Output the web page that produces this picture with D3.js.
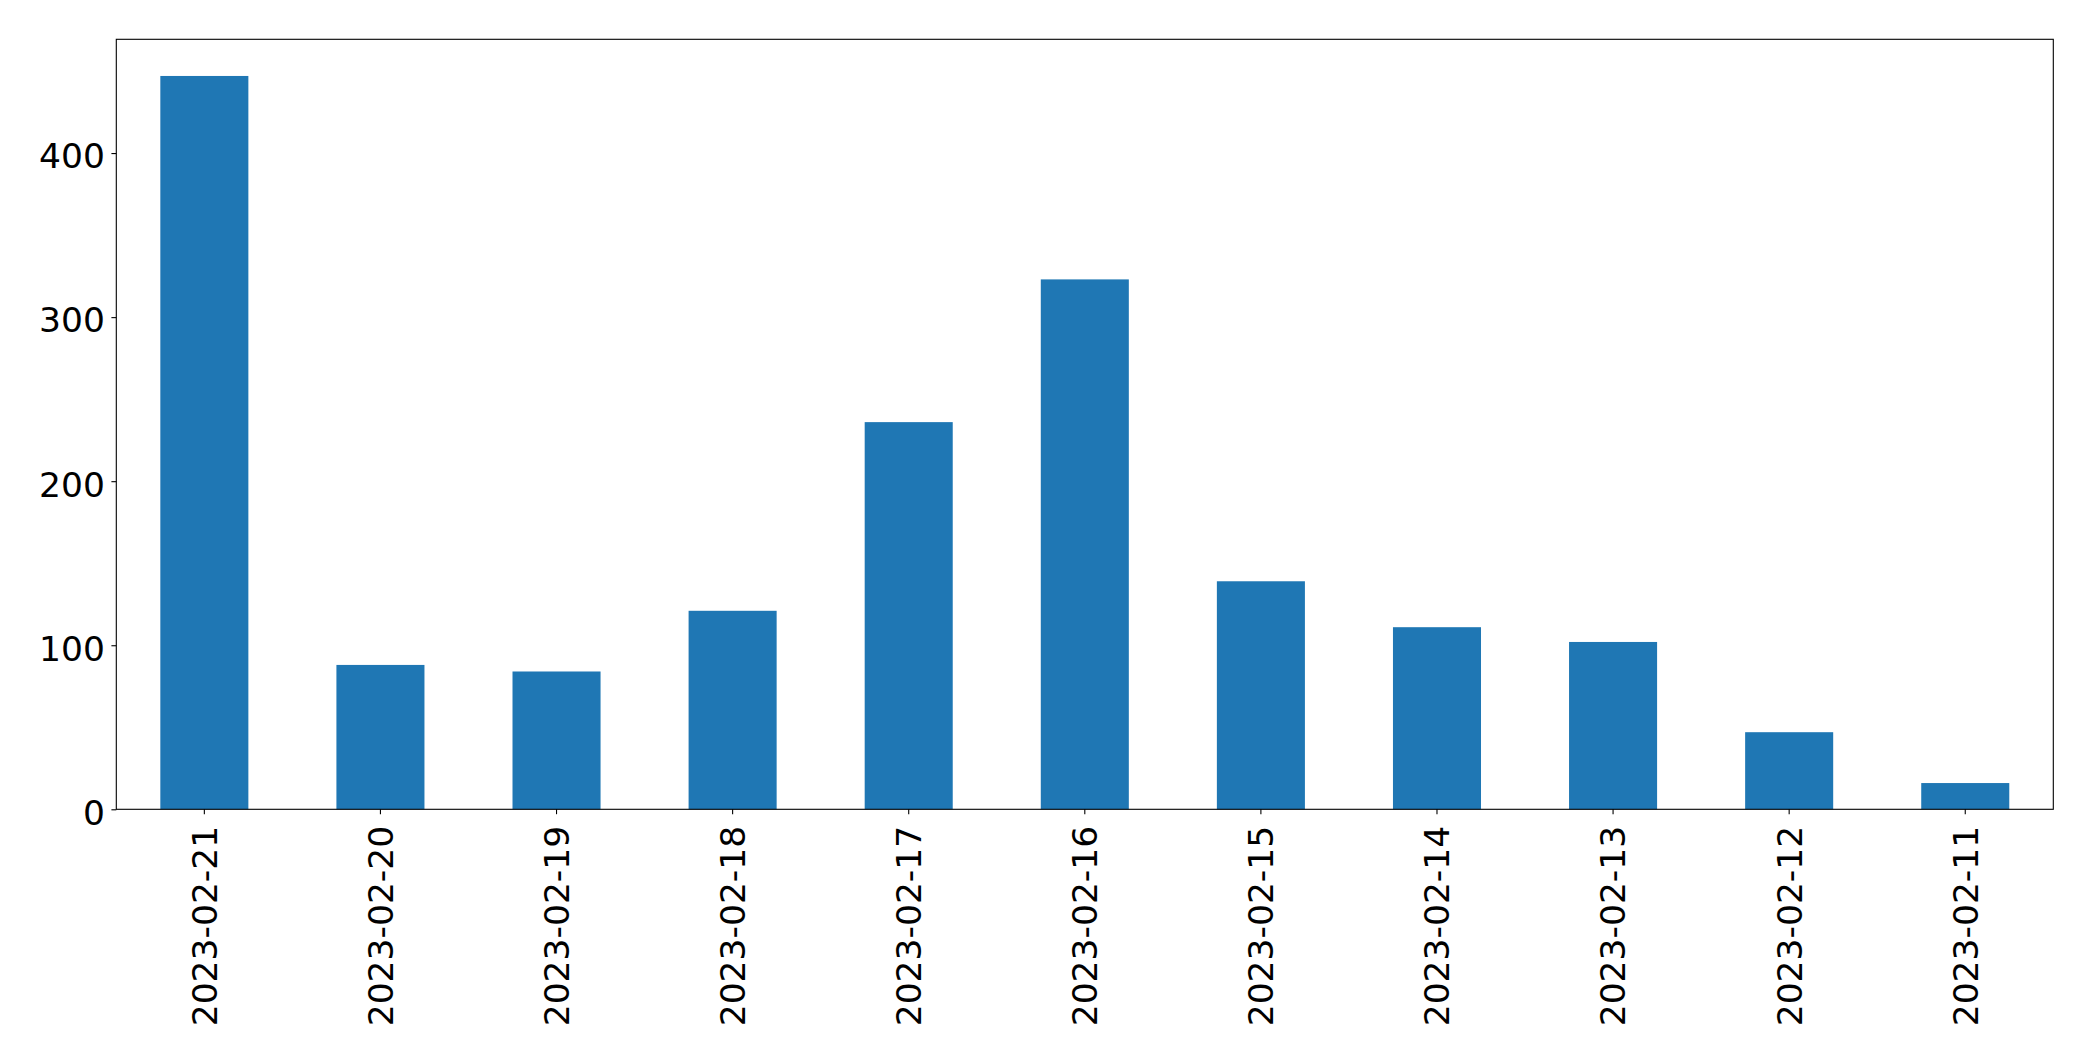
<!DOCTYPE html>
<html>
<head>
<meta charset="utf-8">
<script src="https://cdn.jsdelivr.net/npm/d3@7"></script>
<style>
  html, body { margin: 0; padding: 0; background: #fff; }
  svg { display: block; }
</style>
</head>
<body>
<svg id="chart" width="2093" height="1061"></svg>
<script>
const categories = ["2023-02-21","2023-02-20","2023-02-19","2023-02-18","2023-02-17","2023-02-16","2023-02-15","2023-02-14","2023-02-13","2023-02-12","2023-02-11"];
const values = [447, 88, 84, 121, 236, 323, 139, 111, 102, 47, 16];
const yTicks = [0, 100, 200, 300, 400];

const W = 2093, H = 1061;
const margin = {left: 116.3, right: W - 2053.3, top: 39.3, bottom: H - 809.3};
const svg = d3.select("#chart");
const font = "'DejaVu Sans', sans-serif";
const fontSize = 34.5;

const x = d3.scaleBand()
  .domain(categories)
  .range([margin.left, W - margin.right])
  .paddingInner(0.5)
  .paddingOuter(0.25);

const yMax = d3.max(values) * 1.05;
const y = d3.scaleLinear().domain([0, yMax]).range([H - margin.bottom, margin.top]);

svg.append("g")
  .selectAll("rect")
  .data(values)
  .join("rect")
  .attr("x", (d, i) => x(categories[i]))
  .attr("width", x.bandwidth())
  .attr("y", d => y(d))
  .attr("height", d => y(0) - y(d))
  .attr("fill", "#1f77b4");

// frame
svg.append("rect")
  .attr("x", margin.left)
  .attr("y", margin.top)
  .attr("width", W - margin.right - margin.left)
  .attr("height", H - margin.bottom - margin.top)
  .attr("fill", "none")
  .attr("stroke", "#000")
  .attr("stroke-width", 1.1);

// y axis
const yAxis = d3.axisLeft(y).tickValues(yTicks).tickSize(4.9).tickPadding(6.5).tickSizeOuter(0);
const gy = svg.append("g").attr("transform", `translate(${margin.left},0)`).call(yAxis);
gy.select(".domain").remove();
gy.selectAll(".tick line").attr("stroke", "#000").attr("stroke-width", 1.1);
gy.selectAll(".tick text")
  .attr("font-family", font)
  .attr("font-size", fontSize)
  .attr("fill", "#000")
  .attr("dy", "0.43em");

// x axis
const xAxis = d3.axisBottom(x).tickSize(4.9).tickSizeOuter(0);
const gx = svg.append("g").attr("transform", `translate(0,${H - margin.bottom})`).call(xAxis);
gx.select(".domain").remove();
gx.selectAll(".tick line").attr("stroke", "#000").attr("stroke-width", 1.1);
gx.selectAll(".tick text")
  .attr("font-family", font)
  .attr("font-size", fontSize)
  .attr("fill", "#000")
  .attr("transform", "rotate(-90)")
  .attr("text-anchor", "end")
  .attr("x", -16.5)
  .attr("y", 0)
  .attr("dy", "0.36em");
</script>
</body>
</html>
